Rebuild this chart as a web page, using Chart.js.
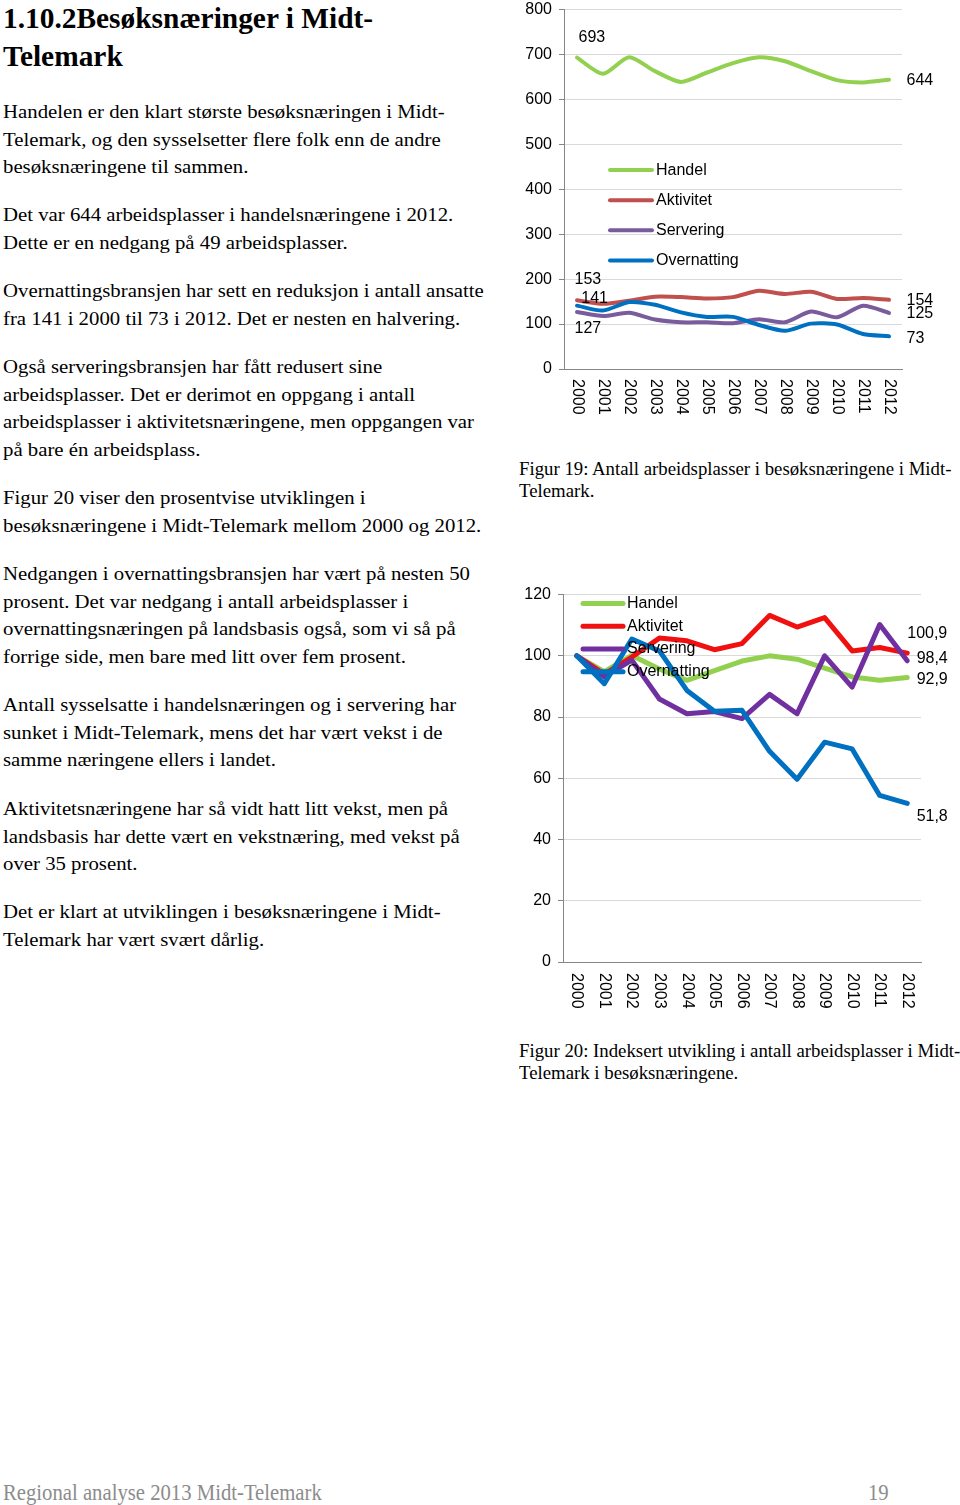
<!DOCTYPE html>
<html>
<head>
<meta charset="utf-8">
<script src="https://cdn.jsdelivr.net/npm/chart.js@4"></script>
<style>
  html, body { margin: 0; padding: 0; background: #fff; }
  body { position: relative; width: 960px; height: 1505px; overflow: hidden; }
  .txt {
    position: absolute; left: 3px; white-space: nowrap;
    font-family: "Liberation Serif", "Times New Roman", serif;
    font-size: 19px; line-height: 27.6px; color: #000;
    transform: scaleX(1.094); transform-origin: 0 0;
  }
  h2 {
    position: absolute; left: 3px; top: -1px; margin: 0;
    font-family: "Liberation Serif", "Times New Roman", serif;
    font-size: 29.4px; line-height: 38px; font-weight: bold; white-space: nowrap;
  }
  .cap {
    position: absolute; left: 519px; white-space: nowrap;
    font-family: "Liberation Serif", "Times New Roman", serif;
    font-size: 18.8px; line-height: 22px; color: #000;
  }
  .foot {
    position: absolute; top: 1481px;
    font-family: "Liberation Serif", "Times New Roman", serif;
    font-size: 23px; line-height: 23px; color: #8c8c8c; white-space: nowrap;
    transform: scaleX(0.9); transform-origin: 0 0;
  }
  canvas { position: absolute; }
</style>
</head>
<body>

<h2>1.10.2Besøksnæringer i Midt-<br>Telemark</h2>

<div class="txt" style="top:98px">Handelen er den klart største besøksnæringen i Midt-<br>Telemark, og den sysselsetter flere folk enn de andre<br>besøksnæringene til sammen.</div>
<div class="txt" style="top:201px">Det var 644 arbeidsplasser i handelsnæringene i 2012.<br>Dette er en nedgang på 49 arbeidsplasser.</div>
<div class="txt" style="top:277px">Overnattingsbransjen har sett en reduksjon i antall ansatte<br>fra 141 i 2000 til 73 i 2012. Det er nesten en halvering.</div>
<div class="txt" style="top:353px">Også serveringsbransjen har fått redusert sine<br>arbeidsplasser. Det er derimot en oppgang i antall<br>arbeidsplasser i aktivitetsnæringene, men oppgangen var<br>på bare én arbeidsplass.</div>
<div class="txt" style="top:484px">Figur 20 viser den prosentvise utviklingen i<br>besøksnæringene i Midt-Telemark mellom 2000 og 2012.</div>
<div class="txt" style="top:560px">Nedgangen i overnattingsbransjen har vært på nesten 50<br>prosent. Det var nedgang i antall arbeidsplasser i<br>overnattingsnæringen på landsbasis også, som vi så på<br>forrige side, men bare med litt over fem prosent.</div>
<div class="txt" style="top:691px">Antall sysselsatte i handelsnæringen og i servering har<br>sunket i Midt-Telemark, mens det har vært vekst i de<br>samme næringene ellers i landet.</div>
<div class="txt" style="top:795px">Aktivitetsnæringene har så vidt hatt litt vekst, men på<br>landsbasis har dette vært en vekstnæring, med vekst på<br>over 35 prosent.</div>
<div class="txt" style="top:898px">Det er klart at utviklingen i besøksnæringene i Midt-<br>Telemark har vært svært dårlig.</div>

<canvas id="chart1" width="450" height="429" style="left:510px;top:-7px"></canvas>
<div class="cap" style="top:458px">Figur 19: Antall arbeidsplasser i besøksnæringene i Midt-<br>Telemark.</div>

<canvas id="chart2" width="450" height="439" style="left:510px;top:578px"></canvas>
<div class="cap" style="top:1040px">Figur 20: Indeksert utvikling i antall arbeidsplasser i Midt-<br>Telemark i besøksnæringene.</div>

<div class="foot" style="left:3px">Regional analyse 2013 Midt-Telemark</div>
<div class="foot" style="left:868px">19</div>

<script>
const years = ["2000", "2001", "2002", "2003", "2004", "2005", "2006",
               "2007", "2008", "2009", "2010", "2011", "2012"];
const seriesNames = ["Handel", "Aktivitet", "Servering", "Overnatting"];

// Figur 19: antall arbeidsplasser
const handelAntall = [693, 657, 694, 663, 639, 660, 681, 694, 685, 663, 643, 638, 644];
const aktivitetAntall = [153, 145, 152, 161, 160, 157, 160, 174, 167, 172, 156, 158, 154];
const serveringAntall = [127, 118, 125, 110, 104, 104, 102, 111, 104, 128, 115, 141, 125];
const overnattingAntall = [141, 130, 149, 143, 126, 116, 116, 98, 85, 101, 99, 78, 73];

// Figur 20: indeks (2000 = 100)
const handelIndeks = [100, 94.8, 100.1, 95.7, 92.0, 95.2, 98.3, 100, 98.9, 96.0, 93.1, 92.0, 92.9];
const aktivitetIndeks = [100, 94.0, 99.6, 105.8, 104.9, 102.0, 104.0, 113.2, 109.4, 112.5, 101.6, 102.7, 100.9];
const serveringIndeks = [100, 93.2, 98.6, 85.9, 81.1, 81.8, 79.5, 87.4, 81.1, 100, 89.8, 110.2, 98.4];
const overnattingIndeks = [100, 90.9, 105.5, 101.6, 88.7, 81.9, 82.2, 68.8, 59.7, 71.8, 69.6, 54.4, 51.8];

const FONT = "16px 'Liberation Sans', Arial, sans-serif";
Chart.defaults.font.family = "'Liberation Sans', Arial, sans-serif";
Chart.defaults.font.size = 16;
Chart.defaults.color = "#000";

// year labels rotated clockwise, reading top to bottom
const verticalYears = {
  id: "verticalYears",
  afterDraw(chart, args, opts) {
    const { ctx, chartArea } = chart;
    const x = chart.scales.x;
    ctx.save();
    ctx.font = FONT;
    ctx.fillStyle = "#000";
    ctx.textAlign = "left";
    ctx.textBaseline = "middle";
    chart.data.labels.forEach((lab, i) => {
      ctx.save();
      ctx.translate(x.getPixelForValue(i), chartArea.bottom + opts.offset);
      ctx.rotate(Math.PI / 2);
      ctx.fillText(lab, 0, 0);
      ctx.restore();
    });
    ctx.restore();
  }
};

// legend drawn inside the plot area
const innerLegend = {
  id: "innerLegend",
  afterDraw(chart, args, opts) {
    const ctx = chart.ctx;
    const top = chart.chartArea.top;
    ctx.save();
    ctx.font = FONT;
    ctx.textBaseline = "middle";
    ctx.textAlign = "left";
    chart.data.datasets.forEach((ds, i) => {
      const y = top + opts.y + i * opts.rowGap;
      ctx.strokeStyle = ds.borderColor;
      ctx.lineWidth = ds.borderWidth;
      ctx.lineCap = "round";
      ctx.beginPath();
      ctx.moveTo(opts.x, y);
      ctx.lineTo(opts.x + opts.swatch, y);
      ctx.stroke();
      ctx.fillStyle = "#000";
      ctx.fillText(ds.label, opts.x + opts.swatch + opts.gap, y);
    });
    ctx.restore();
  }
};

// value labels next to the first and last points
const pointLabels = {
  id: "pointLabels",
  afterDraw(chart, args, opts) {
    const ctx = chart.ctx;
    ctx.save();
    ctx.font = FONT;
    ctx.fillStyle = "#000";
    ctx.textAlign = "left";
    ctx.textBaseline = "middle";
    opts.items.forEach(it => {
      const v = chart.data.datasets[it.ds].data[it.i];
      const pt = chart.getDatasetMeta(it.ds).data[it.i];
      ctx.fillText(opts.format(v), pt.x + it.dx, pt.y + it.dy);
    });
    ctx.restore();
  }
};

function makeDatasets(values, colors, width, tension) {
  return values.map((vals, i) => ({
    label: seriesNames[i],
    data: vals,
    borderColor: colors[i],
    backgroundColor: colors[i],
    borderWidth: width,
    pointRadius: 0,
    tension: tension,
    borderJoinStyle: "round",
    borderCapStyle: "round",
    order: values.length - i
  }));
}

function axisOptions(max, step, yWidth, xHeight) {
  return {
    x: {
      offset: true,
      grid: { display: false },
      border: { color: "#868686", width: 1 },
      ticks: { display: false },
      afterFit: s => { s.height = xHeight; }
    },
    y: {
      min: 0,
      max: max,
      grid: { color: "#d9d9d9", lineWidth: 1, tickColor: "#868686", tickLength: 5 },
      border: { color: "#868686", width: 1 },
      ticks: { stepSize: step, padding: 7, color: "#000", font: { size: 16 } },
      afterFit: s => { s.width = yWidth; }
    }
  };
}

new Chart(document.getElementById("chart1"), {
  type: "line",
  data: {
    labels: years,
    datasets: makeDatasets(
      [handelAntall, aktivitetAntall, serveringAntall, overnattingAntall],
      ["#92D050", "#C0504D", "#7A5C9C", "#0070C0"], 4, 0.25)
  },
  options: {
    responsive: false,
    animation: false,
    layout: { padding: { top: 0, right: 58, left: 0, bottom: 0 } },
    scales: axisOptions(800, 100, 54, 53),
    plugins: {
      legend: { display: false },
      tooltip: { enabled: false },
      verticalYears: { offset: 10 },
      innerLegend: { x: 100, y: 160.5, rowGap: 30.1, swatch: 42, gap: 4 },
      pointLabels: {
        format: v => String(v),
        items: [
          { ds: 0, i: 0, dx: 1.5, dy: -20.5 },
          { ds: 0, i: 12, dx: 17.5, dy: 0.5 },
          { ds: 1, i: 0, dx: -2.5, dy: -20.7 },
          { ds: 3, i: 0, dx: 4.3, dy: -6.7 },
          { ds: 2, i: 0, dx: -2.5, dy: 17 },
          { ds: 1, i: 12, dx: 17.5, dy: 0.7 },
          { ds: 2, i: 12, dx: 17.5, dy: 1 },
          { ds: 3, i: 12, dx: 17.5, dy: 2.3 }
        ]
      }
    }
  },
  plugins: [verticalYears, innerLegend, pointLabels]
});

new Chart(document.getElementById("chart2"), {
  type: "line",
  data: {
    labels: years,
    datasets: makeDatasets(
      [handelIndeks, aktivitetIndeks, serveringIndeks, overnattingIndeks],
      ["#92D050", "#F01010", "#7030A0", "#0070C0"], 5, 0)
  },
  options: {
    responsive: false,
    animation: false,
    layout: { padding: { top: 0, right: 39, left: 0, bottom: 0 } },
    scales: axisOptions(120, 20, 53, 55),
    plugins: {
      legend: { display: false },
      tooltip: { enabled: false },
      verticalYears: { offset: 11 },
      innerLegend: { x: 73, y: 9, rowGap: 22.7, swatch: 40, gap: 4 },
      pointLabels: {
        format: v => v.toFixed(1).replace(".", ","),
        items: [
          { ds: 1, i: 12, dx: 0, dy: -19.4 },
          { ds: 2, i: 12, dx: 9.4, dy: -2 },
          { ds: 0, i: 12, dx: 9.4, dy: 2 },
          { ds: 3, i: 12, dx: 9.4, dy: 13 }
        ]
      }
    }
  },
  plugins: [verticalYears, innerLegend, pointLabels]
});
</script>
</body>
</html>
